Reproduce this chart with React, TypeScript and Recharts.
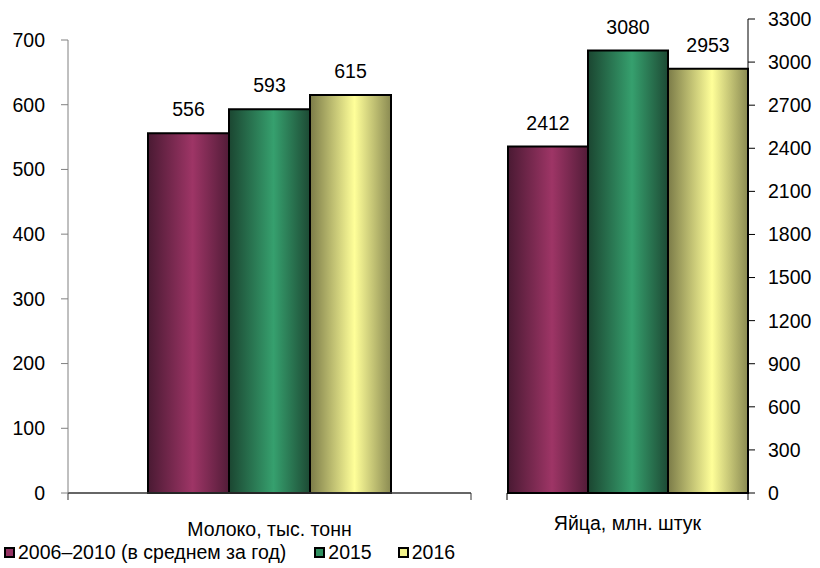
import React from 'react';
import * as R from 'recharts';
import { BarChart, Bar, XAxis, YAxis, LabelList, Legend } from 'recharts';

const seriesNames = ['2006–2010 (в среднем за год)', '2015', '2016'];
const seriesKeys = ['avg', 'y2015', 'y2016'];
const milkCategory = ['Молоко, тыс. тонн'];
const milkValues = [556, 593, 615];
const eggCategory = ['Яйца, млн. штук'];
const eggValues = [2412, 3080, 2953];
const milkTicks = [0, 100, 200, 300, 400, 500, 600, 700];
const eggTicks = [0, 300, 600, 900, 1200, 1500, 1800, 2100, 2400, 2700, 3000, 3300];

const colors = [
  { edge: '#4a1a33', mid: '#9e3566', edge2: '#521c38', legend: '#953262' },
  { edge: '#1b4631', mid: '#36a06e', edge2: '#1d4a34', legend: '#2f8f5f' },
  { edge: '#7b7b48', mid: '#ffff99', edge2: '#8a8a52', legend: '#f2f28a' },
];

const FONT = '"Liberation Sans", Arial, sans-serif';
const FS = 19.5;

function buildRow(cat: string, vals: number[]) {
  const row: Record<string, any> = { name: cat };
  seriesKeys.forEach((k, i) => (row[k] = vals[i]));
  return [row];
}
const milkData = buildRow(milkCategory[0], milkValues);
const eggData = buildRow(eggCategory[0], eggValues);

function Gradients({ prefix }: { prefix: string }) {
  return (
    <defs>
      {colors.map((c, i) => (
        <linearGradient key={i} id={`${prefix}${i}`} x1="0" y1="0" x2="1" y2="0">
          <stop offset="0%" stopColor={c.edge} />
          <stop offset="55%" stopColor={c.mid} />
          <stop offset="100%" stopColor={c.edge2} />
        </linearGradient>
      ))}
    </defs>
  );
}

const anyR: any = R;
function BoundaryTicks({ color }: { color: string }) {
  let area: any = null;
  if (anyR.usePlotArea) {
    area = anyR.usePlotArea();
  }
  if (!area) return null;
  const yb = area.y + area.height;
  return (
    <g>
      <line x1={area.x} x2={area.x} y1={yb} y2={yb + 7} stroke={color} strokeWidth={1} />
      <line x1={area.x + area.width} x2={area.x + area.width} y1={yb} y2={yb + 7} stroke={color} strokeWidth={1} />
    </g>
  );
}

function LegendContent() {
  return (
    <div style={{ display: 'flex', alignItems: 'center', fontFamily: FONT, fontSize: FS, lineHeight: '22px', color: '#000', whiteSpace: 'nowrap' }}>
      {seriesNames.map((n, i) => (
        <div key={i} style={{ display: 'flex', alignItems: 'center', marginRight: i === 0 ? 28 : 26 }}>
          <span style={{ display: 'inline-block', width: 7, height: 7, background: colors[i].legend, border: '2px solid #000', marginRight: 3 }} />
          <span>{n}</span>
        </div>
      ))}
    </div>
  );
}

const tickStyle = { fontSize: FS, fill: '#000', fontFamily: FONT };

export default function App() {
  return (
    <div style={{ position: 'absolute', left: 0, top: 0, width: 820, height: 568, background: '#fff', fontFamily: FONT }}>
      <div style={{ position: 'absolute', left: 0, top: 0 }}>
        <BarChart width={490} height={568} data={milkData} margin={{ top: 40, right: 19, bottom: 15, left: 0 }} barGap={0} barSize={81}>
          <Gradients prefix="mg" />
          <XAxis dataKey="name" height={60} tickLine={false} axisLine={{ stroke: '#333', strokeWidth: 1.5 }} tickMargin={23}
            fontSize={FS} tick={tickStyle} />
          <YAxis width={68} domain={[0, 700]} ticks={milkTicks} interval={0} tickSize={7} tickMargin={16}
            axisLine={{ stroke: '#808080' }} tickLine={{ stroke: '#808080' }}
            fontSize={FS} tick={tickStyle} />
          {seriesKeys.map((k, i) => (
            <Bar key={k} dataKey={k} name={seriesNames[i]} fill={`url(#mg${i})`} stroke="#000" strokeWidth={2} isAnimationActive={false}>
              <LabelList dataKey={k} position="top" offset={17} fontSize={FS} fill="#000" fontFamily={FONT} />
            </Bar>
          ))}
          <BoundaryTicks color="#333" />
          <Legend layout="horizontal" verticalAlign="middle" align="center" content={<LegendContent />}
            wrapperStyle={{ left: 4, top: 541, width: 486, height: 22 }} />
        </BarChart>
      </div>
      <div style={{ position: 'absolute', left: 480, top: 0 }}>
        <BarChart width={340} height={568} data={eggData} margin={{ top: 19, right: 0, bottom: 15, left: 27 }} barGap={0} barSize={80} barCategoryGap={0}>
          <Gradients prefix="eg" />
          <XAxis dataKey="name" height={60} tickLine={false} axisLine={{ stroke: '#000', strokeWidth: 1.5 }} tickMargin={17}
            fontSize={FS} tick={tickStyle} />
          <YAxis orientation="right" width={72} domain={[0, 3300]} ticks={eggTicks} interval={0} tickSize={7} tickMargin={13}
            axisLine={{ stroke: '#000' }} tickLine={{ stroke: '#000' }}
            fontSize={FS} tick={tickStyle} />
          {seriesKeys.map((k, i) => (
            <Bar key={k} dataKey={k} name={seriesNames[i]} fill={`url(#eg${i})`} stroke="#000" strokeWidth={2} isAnimationActive={false}>
              <LabelList dataKey={k} position="top" offset={17} fontSize={FS} fill="#000" fontFamily={FONT} />
            </Bar>
          ))}
          <BoundaryTicks color="#000" />
        </BarChart>
      </div>
    </div>
  );
}
